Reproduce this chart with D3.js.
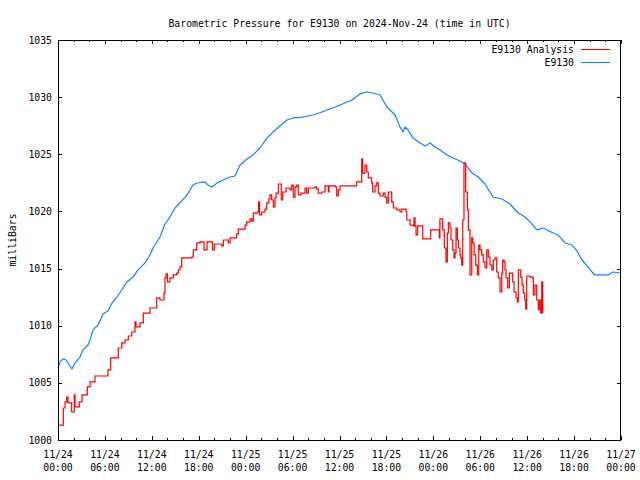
<!DOCTYPE html>
<html>
<head>
<meta charset="utf-8">
<script src="https://cdn.jsdelivr.net/npm/d3@7"></script>
<style>
html,body{margin:0;padding:0;background:#fff;}
svg{display:block;}
text{font-family:"DejaVu Sans Mono","Liberation Mono",monospace;font-size:9.8px;fill:#000;}
</style>
</head>
<body>
<svg id="chart" width="640" height="480"></svg>
<script>
// ---- data (hours since 2024-11-24 00:00 UTC, pressure in mbar) ----
const titleText = "Barometric Pressure for E9130 on 2024-Nov-24 (time in UTC)";
const yLabel = "milliBars";
const seriesNames = ["E9130 Analysis", "E9130"];
const yTicks = [1000, 1005, 1010, 1015, 1020, 1025, 1030, 1035];

const stationHours = [0,0.26,0.64,1.02,1.28,1.79,2.17,2.81,3.2,3.84,4.09,4.48,5.12,5.76,6.39,6.91,7.55,8.31,8.82,9.59,10.23,11.13,11.77,12.15,13.05,13.68,14.32,14.96,15.6,16.5,17.27,17.78,18.8,19.18,19.7,20.33,21.1,22,22.64,23.28,24.17,24.94,25.83,26.73,27.5,28.39,29.29,30.06,31.33,32.61,33.76,34.79,36.07,37.6,38.62,39.52,40.29,41.18,42.08,43.1,43.74,44.12,44.38,44.76,45.4,46.3,46.94,47.58,48.22,48.86,49.75,50.52,51.41,52.05,52.95,53.72,54.61,55.63,56.78,57.81,58.7,59.73,60.37,61.26,62.03,63.31,63.95,64.85,65.74,66.38,67.02,67.66,68.3,68.68,70.35,70.98,71.88];
const stationValues = [1006.3,1006.83,1007.09,1007,1006.74,1006.21,1006.74,1007.26,1007.88,1008.31,1008.75,1009.63,1010.06,1011.03,1011.29,1011.99,1012.51,1013.3,1013.83,1014.26,1014.88,1015.49,1016.19,1016.8,1017.76,1018.9,1019.51,1020.3,1020.74,1021.44,1022.31,1022.49,1022.58,1022.31,1022.14,1022.49,1022.75,1023.01,1023.1,1024.06,1024.59,1024.94,1025.55,1026.43,1026.95,1027.48,1028,1028.18,1028.26,1028.44,1028.7,1028.96,1029.31,1029.75,1030.28,1030.45,1030.36,1030.19,1029.14,1028.44,1027.39,1026.95,1027.39,1027.13,1026.43,1025.99,1025.73,1025.99,1025.64,1025.38,1024.94,1024.68,1024.41,1024.15,1023.36,1023.01,1022.4,1021.26,1021.09,1020.65,1019.95,1019.51,1019.08,1018.38,1018.55,1018.11,1017.94,1017.24,1017.06,1016.54,1015.75,1015.23,1014.7,1014.44,1014.44,1014.7,1014.61];

const analysisHours = [0.13,0.6,0.68,0.9,1.11,1.28,1.66,1.75,1.96,2.08,2.17,2.62,2.72,3.03,3.07,3.67,3.75,4.09,4.67,4.73,6.33,6.39,6.65,6.74,7.55,7.71,8.15,8.57,8.99,9.43,9.78,9.85,9.97,10.49,10.91,11.7,11.77,12.41,12.62,13.04,13.55,13.68,13.81,14,14.32,14.75,15.18,15.39,15.6,15.82,17.1,17.3,17.74,18.16,18.58,18.67,18.99,19.06,19.66,19.76,19.99,20.72,20.94,21.14,21.74,21.78,22,22.64,22.85,23.06,23.7,23.92,24.13,24.56,24.77,24.98,25.49,25.64,25.77,26.05,26.47,26.69,26.98,27.11,27.33,27.54,27.75,27.88,28.17,28.48,28.55,28.74,29.03,29.16,29.45,29.67,29.89,30.09,30.31,30.53,30.73,31.04,31.37,31.59,31.81,32.01,32.87,33.08,33.29,33.64,33.72,34.15,34.57,34.66,35.43,35.64,35.85,36.07,37.98,38.2,38.69,38.84,38.97,39.26,39.48,39.68,40.11,40.24,40.54,40.76,40.96,41.18,41.6,41.82,42.04,42.24,42.52,42.68,42.88,43.32,43.74,43.96,44.51,44.6,45.02,45.45,45.53,45.66,45.79,46,46.51,46.64,47.49,47.66,48.76,48.84,49.07,49.2,49.4,49.62,49.79,49.92,50.13,50.26,50.48,50.65,50.77,50.9,51.07,51.2,51.41,51.5,51.63,51.76,51.92,52.14,52.35,52.48,52.69,52.91,53.04,53.21,53.42,53.63,53.81,53.97,54.19,54.39,54.61,54.83,55.03,55.25,55.47,55.67,55.89,56.11,56.31,56.53,56.75,56.87,57.04,57.17,57.3,57.51,57.72,57.94,58.15,58.32,58.58,58.74,58.87,59,59.18,59.34,59.51,59.69,59.82,59.94,60.37,60.71,60.79,61,61.22,61.43,61.55,61.73,61.86,61.99];
const analysisValues = [1001.31,1001.31,1002.8,1003.33,1003.76,1003.24,1003.24,1002.45,1002.45,1003.94,1002.89,1002.89,1003.33,1003.33,1003.94,1003.94,1004.64,1005.08,1005.08,1005.6,1005.6,1006.13,1006.13,1007.18,1007.18,1008.05,1008.49,1008.75,1009.1,1009.45,1009.45,1010.33,1009.89,1010.24,1011.11,1011.11,1011.55,1011.55,1012.43,1012.25,1012.86,1014.18,1014.53,1013.83,1014.18,1014.44,1014.61,1014.88,1015.14,1015.93,1016.01,1016.63,1017.24,1017.33,1017.33,1016.63,1016.63,1017.33,1017.33,1016.63,1017.15,1017.15,1016.98,1017.5,1017.5,1017.24,1017.68,1017.68,1018.03,1018.46,1018.46,1018.81,1019.08,1019.34,1019.16,1019.86,1019.95,1020.83,1019.69,1019.95,1020.21,1020.74,1021.09,1021.44,1021,1020.39,1021.18,1021.61,1022.4,1022.4,1021,1021.7,1021.7,1022.05,1022.05,1021.88,1022.31,1021.26,1022.14,1022.31,1021.44,1021.61,1021.61,1022.05,1021.61,1022.05,1022.14,1021.96,1021.61,1021.61,1021.7,1022.23,1021.7,1022.23,1022.14,1021.35,1021.88,1022.23,1022.23,1022.58,1022.58,1024.59,1023.36,1024.06,1023.45,1022.93,1022.49,1021.7,1022.23,1022.49,1021.61,1021.35,1021.61,1021.26,1020.74,1021.7,1021.7,1020.83,1020.3,1020.13,1019.95,1020.21,1019.95,1019.25,1018.81,1018.73,1019.43,1018.73,1017.94,1018.73,1018.73,1017.59,1017.59,1018.38,1017.68,1019.34,1019.34,1018.38,1016.8,1015.58,1018.11,1018.99,1018.55,1017.5,1016.63,1015.93,1016.36,1018.55,1017.5,1016.8,1016.19,1015.93,1015.31,1019.25,1024.24,1021.7,1020.13,1018.38,1014.44,1017.68,1017.24,1016.19,1015.31,1014.44,1017.06,1016.63,1016.19,1015.58,1015.05,1016.63,1016.01,1015.31,1014.88,1015.75,1015.93,1014.7,1014.18,1012.95,1014.61,1015.75,1015.58,1014.88,1014.18,1013.3,1014.61,1014.61,1013.83,1012.95,1012.43,1012.08,1014.88,1014.88,1014.26,1013.56,1012.86,1012.25,1011.46,1014.35,1014.26,1014.18,1012.69,1013.56,1012.25,1011.38,1012.25,1011.11,1013.83,1011.11];

// ---- layout ----
const svg = d3.select("#chart");
const L = 58, R = 621, T = 40, B = 440;
const t0 = Date.UTC(2024, 10, 24, 0, 0);
const toDate = h => new Date(t0 + h * 3600e3);
const x = d3.scaleUtc().domain([toDate(0), toDate(72)]).range([L, R]);
const y = d3.scaleLinear().domain([1000, 1035]).range([B, T]);

const fmtDay = d3.utcFormat("%m/%d"), fmtTime = d3.utcFormat("%H:%M");
const majorTicks = d3.range(0, 73, 6).map(toDate);
const minorTicks = d3.range(0, 73, 2).filter(h => h % 6 !== 0).map(toDate);

// ticks (inward, mirrored)
const g = svg.append("g").attr("shape-rendering", "crispEdges").attr("stroke", "#000").attr("stroke-width", 1);
majorTicks.forEach(d => {
  const px = Math.round(x(d)) + 0.5;
  g.append("line").attr("x1", px).attr("x2", px).attr("y1", B).attr("y2", B - 4);
  g.append("line").attr("x1", px).attr("x2", px).attr("y1", T).attr("y2", T + 4);
});
minorTicks.forEach(d => {
  const px = Math.round(x(d)) + 0.5;
  g.append("line").attr("x1", px).attr("x2", px).attr("y1", B).attr("y2", B - 2);
  g.append("line").attr("x1", px).attr("x2", px).attr("y1", T).attr("y2", T + 2);
});
yTicks.forEach(v => {
  const py = Math.round(y(v)) + 0.5;
  g.append("line").attr("x1", L).attr("x2", L + 4).attr("y1", py).attr("y2", py);
  g.append("line").attr("x1", R).attr("x2", R - 4).attr("y1", py).attr("y2", py);
});

// labels
yTicks.forEach(v => {
  svg.append("text").attr("x", 52).attr("y", y(v) + 3.5).attr("text-anchor", "end").text(v);
});
majorTicks.forEach(d => {
  svg.append("text").attr("x", x(d)).attr("y", 457.5).attr("text-anchor", "middle").text(fmtDay(d));
  svg.append("text").attr("x", x(d)).attr("y", 471).attr("text-anchor", "middle").text(fmtTime(d));
});
svg.append("text").attr("x", (L + R) / 2).attr("y", 27).attr("text-anchor", "middle").text(titleText);
svg.append("text").attr("transform", "translate(16,240) rotate(-90)").attr("text-anchor", "middle").text(yLabel);

// lines
const stationLine = d3.line().x(d => x(toDate(d[0]))).y(d => y(d[1]));
const analysisLine = d3.line().curve(d3.curveStepAfter).x(d => x(toDate(d[0]))).y(d => y(d[1]));
const stationData = stationHours.map((h, i) => [h, stationValues[i]]);
const analysisData = analysisHours.map((h, i) => [h, analysisValues[i]]);
const colors = ["#ff0000", "#1080ff"];

svg.append("path").datum(stationData).attr("d", stationLine).attr("fill", "none")
  .attr("stroke", colors[1]).attr("stroke-width", 1.2).attr("stroke-linejoin", "round");
svg.append("path").datum(analysisData).attr("d", analysisLine).attr("fill", "none")
  .attr("stroke", colors[0]).attr("stroke-width", 1.2).attr("stroke-linejoin", "miter");

// legend
seriesNames.forEach((name, i) => {
  const ly = 49.5 + i * 13;
  svg.append("text").attr("x", 574).attr("y", ly + 3.5).attr("text-anchor", "end").text(name);
  svg.append("line").attr("x1", 581).attr("x2", 610).attr("y1", ly).attr("y2", ly)
    .attr("stroke", colors[i]).attr("stroke-width", 1).attr("shape-rendering", "crispEdges");
});

// frame
svg.append("rect").attr("x", L + 0.5).attr("y", T + 0.5).attr("width", R - L - 1).attr("height", B - T)
  .attr("fill", "none").attr("stroke", "#000").attr("stroke-width", 1).attr("shape-rendering", "crispEdges");
</script>
</body>
</html>
